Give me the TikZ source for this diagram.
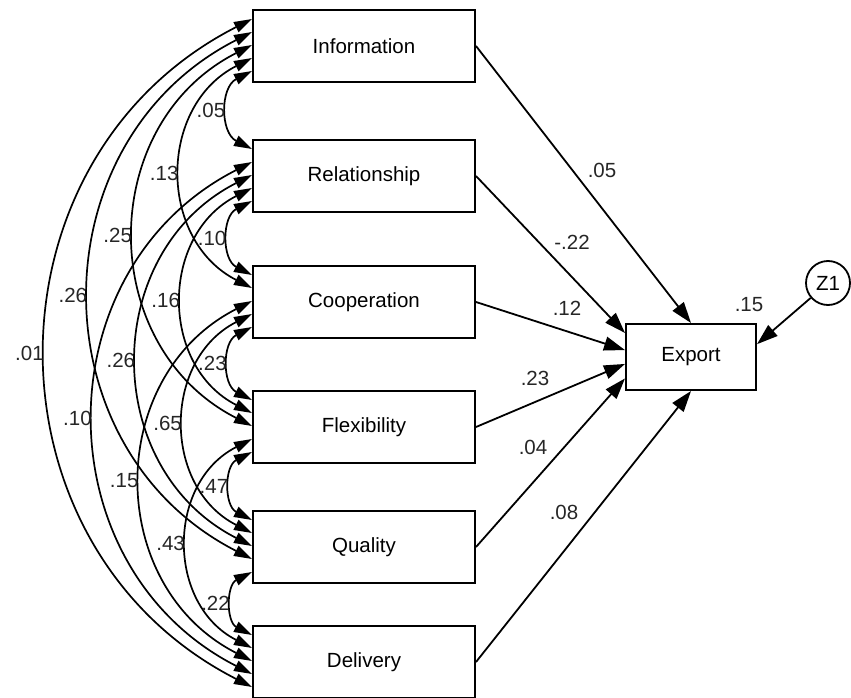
\documentclass[tikz,border=0pt]{standalone}
\usepackage{fontspec}
\setmainfont{Liberation Sans}
\usetikzlibrary{arrows.meta}
\tikzstyle{varbox}=[rectangle,draw=black,line width=2pt,
                    minimum width=222pt,minimum height=72pt,inner sep=0pt]
\tikzstyle{outbox}=[rectangle,draw=black,line width=2pt,
                    minimum width=130pt,minimum height=66pt,inner sep=0pt]
\tikzstyle{errdot}=[circle,draw=black,line width=1.8pt,
                    minimum size=44pt,inner sep=0pt]
\tikzstyle{regarrow}=[line width=1.8pt,-{Triangle[length=21pt,width=14pt]}]
\tikzstyle{covarrow}=[line width=1.7pt,
                      {Triangle[length=18pt,width=11pt]}-{Triangle[length=18pt,width=11pt]},
                      bend right=63,looseness=1.18]
\tikzstyle{coef}=[inner sep=1pt,text=black!85]
\tikzstyle{covcoef}=[anchor=east,inner sep=2pt,text=black!85]

\begin{document}
\begin{tikzpicture}[x=1pt,y=-1pt,font=\fontsize{20.5}{24}\selectfont]
    \useasboundingbox (0,0) rectangle (851,698);
    \node (info)   at (364, 46)  [varbox]{Information};
    \node (relat)  at (364, 176) [varbox]{Relationship};
    \node (coop)   at (364, 302) [varbox]{Cooperation};
    \node (flex)   at (364, 427) [varbox]{Flexibility};
    \node (qual)   at (364, 547) [varbox]{Quality};
    \node (deliv)  at (364, 662) [varbox]{Delivery};
    \node (export) at (691, 357) [outbox]{Export};
    \node (z1)     at (828, 283) [errdot]{Z1};
    % five ends on the left side of every box
    \foreach \n in {info,relat,coop,flex,qual,deliv}
      \foreach \k in {0,...,4}
        \coordinate (\n\k) at ([yshift={-(10+13*\k)*1pt}]\n.north west);
    % covariances
    \foreach \a/\b/\v in {info4/relat0/.05, info3/coop1/.13, info2/flex2/.25,
                          info1/qual3/.26, info0/deliv4/.01, relat4/coop0/.10,
                          relat3/flex1/.16, relat2/qual2/.26, relat1/deliv3/.10,
                          coop4/flex0/.23, coop3/qual1/.65, coop2/deliv2/.15,
                          flex4/qual0/.47, flex3/deliv1/.43, qual4/deliv0/.22}
      \draw[covarrow] (\a) to node[covcoef]{\v} (\b);
    % paths to export
    \draw[regarrow] (info.east)  -- (export.north);
    \draw[regarrow] (relat.east) -- (export.160);
    \draw[regarrow] (coop.east)  -- (export.174);
    \draw[regarrow] (flex.east)  -- (export.186);
    \draw[regarrow] (qual.east)  -- (export.198);
    \draw[regarrow] (deliv.east) -- (export.south);
    \draw[regarrow] (z1) -- (export.11);
    \node (w1) at (602, 170) [coef]{.05};
    \node (w2) at (572, 242) [coef]{-.22};
    \node (w3) at (567, 308) [coef]{.12};
    \node (w4) at (535, 378) [coef]{.23};
    \node (w5) at (533, 447) [coef]{.04};
    \node (w6) at (564, 512) [coef]{.08};
    \node (r2) at (749, 305) [coef]{.15};
\end{tikzpicture}
\end{document}
